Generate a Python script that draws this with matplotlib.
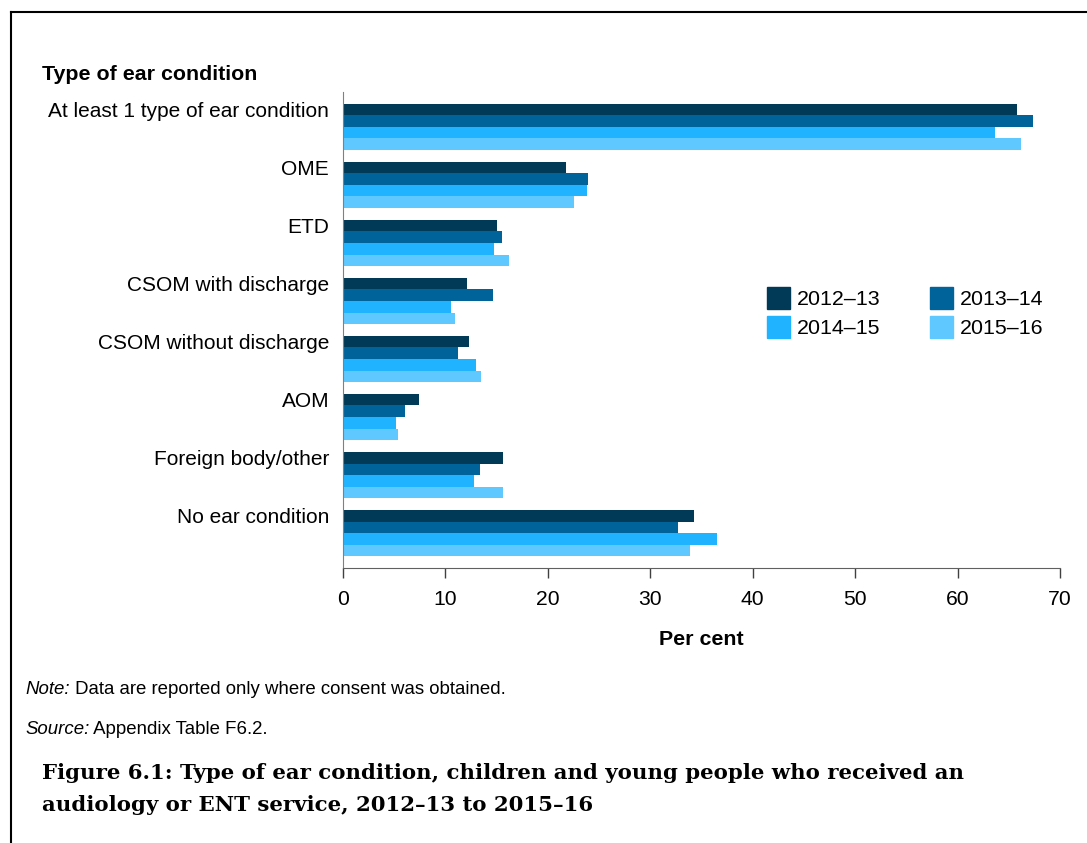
import matplotlib
matplotlib.use("Agg")
import matplotlib.pyplot as plt
from matplotlib.patches import Patch
from matplotlib.lines import Line2D
from matplotlib.text import Annotation
import numpy as np

categories = ["At least 1 type of ear condition", "OME", "ETD", "CSOM with discharge",
              "CSOM without discharge", "AOM", "Foreign body/other", "No ear condition"]
years = ["2012\u201313", "2013\u201314", "2014\u201315", "2015\u201316"]
v_2012_13 = [65.8, 21.8, 15.0, 12.1, 12.3, 7.4, 15.6, 34.3]
v_2013_14 = [67.4, 23.9, 15.5, 14.6, 11.2, 6.1, 13.4, 32.7]
v_2014_15 = [63.7, 23.8, 14.7, 10.5, 13.0, 5.2, 12.8, 36.5]
v_2015_16 = [66.2, 22.6, 16.2, 10.9, 13.5, 5.4, 15.6, 33.9]
series = [v_2012_13, v_2013_14, v_2014_15, v_2015_16]
colors = ["#003A57", "#00649B", "#20B3FF", "#5FC8FF"]
xticks = [0, 10, 20, 30, 40, 50, 60, 70]

plt.rcParams['font.family'] = ['Liberation Sans', 'DejaVu Sans']

W, H = 1087, 843
fig = plt.figure(figsize=(W / 100, H / 100), dpi=100)
ax = fig.add_axes([343 / W, 1 - 568 / H, (1060 - 343) / W, (568 - 92) / H])

y = np.arange(len(categories))
bh = 0.2
for i, (vals, c) in enumerate(zip(series, colors)):
    ax.barh(y - 1.5 * bh + i * bh, vals, height=bh, color=c, label=years[i])

ax.set_ylim(7.6, -0.6)
ax.set_xlim(0, 70)
ax.set_xticks(xticks)
ax.set_xticklabels([str(t) for t in xticks], fontsize=15.2)
ax.set_yticks(y - 0.3)
ax.set_yticklabels(categories, fontsize=15.0)
ax.tick_params(axis='y', length=0, pad=10)
ax.tick_params(axis='x', length=7, width=1, color="#404040", pad=9)
for s in ["top", "right"]:
    ax.spines[s].set_visible(False)
ax.spines["left"].set_color("#808080")
ax.spines["bottom"].set_color("#606060")
ax.set_xlabel("Per cent", fontsize=15.4, fontweight="bold", labelpad=15)

handles = [Patch(color=c) for c in colors]
order = [0, 2, 1, 3]
ax.legend([handles[k] for k in order], [years[k] for k in order], ncol=2,
          loc="upper left", bbox_to_anchor=((767 - 343) / (1060 - 343), 1 - (287 - 92) / 476),
          frameon=False, fontsize=15.4, handlelength=1.07, handleheight=1.2,
          handletextpad=0.33, columnspacing=2.3, labelspacing=0.3, borderaxespad=0,
          borderpad=0)

fig.text(42 / W, 1 - 74 / H, "Type of ear condition", fontsize=15.4, fontweight="bold",
         va="center", ha="left")

def note_line(label, rest, ypix):
    t = fig.text(25 / W, 1 - ypix / H, label, fontsize=13.4, style="italic",
                 va="center", ha="left")
    fig.add_artist(Annotation(" " + rest, xy=(1, 0), xycoords=t, fontsize=13.4,
                              va="bottom", ha="left"))

note_line("Note:", "Data are reported only where consent was obtained.", 690)
note_line("Source:", "Appendix Table F6.2.", 730)

fig.text(42 / W, 1 - 789 / H,
         "Figure 6.1: Type of ear condition, children and young people who received an\n"
         "audiology or ENT service, 2012\u201313 to 2015\u201316",
         fontsize=15.3, fontweight="bold", family="DejaVu Serif", va="center", ha="left",
         linespacing=1.7)

# border
fig.add_artist(Line2D([11 / W, 11 / W], [0, 1 - 12 / H], color="black", lw=1.5))
fig.add_artist(Line2D([11 / W, 1], [1 - 12 / H, 1 - 12 / H], color="black", lw=1.5))

fig.savefig("out.png", dpi=100)
